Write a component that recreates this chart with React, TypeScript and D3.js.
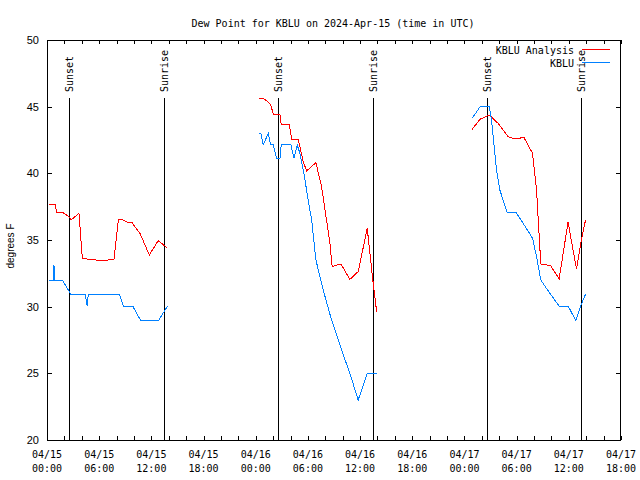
import React from "react";
import * as d3 from "d3";

// hours since 2024-04-15 00:00 UTC
const analysisHours1 = [0.26, 0.92, 1.11, 1.76, 2.53, 2.76, 3.68, 4.06, 4.86, 6.29, 7.0, 7.7, 8.2, 8.59, 9.23, 9.74, 10.69, 11.76, 12.79, 13.87];
const analysisValues1 = [37.67, 37.67, 37.08, 37.08, 36.75, 36.5, 37.0, 33.63, 33.55, 33.45, 33.5, 33.58, 36.5, 36.55, 36.33, 36.33, 35.5, 33.88, 34.95, 34.38];
const analysisHours2 = [24.4, 24.86, 25.25, 25.71, 26.01, 26.78, 26.93, 27.85, 28.16, 28.89, 29.46, 29.85, 30.92, 31.57, 32.14, 32.53, 32.79, 33.1, 33.79, 34.83, 35.78, 36.82, 37.44, 37.9];
const analysisValues2 = [45.63, 45.63, 45.45, 45.18, 44.45, 44.45, 43.63, 43.63, 42.55, 42.55, 40.88, 40.18, 40.8, 39.0, 36.5, 34.75, 33.0, 33.08, 33.2, 32.05, 32.63, 35.88, 32.13, 29.63];
const analysisHours3 = [48.89, 49.77, 50.84, 51.87, 53.02, 53.6, 54.29, 54.83, 55.83, 56.29, 56.55, 56.78, 57.44, 57.9, 58.89, 59.92, 60.31, 60.89, 61.34, 61.92];
const analysisValues3 = [43.3, 44.05, 44.38, 43.75, 42.75, 42.63, 42.63, 42.7, 41.5, 38.75, 35.75, 33.2, 33.13, 33.08, 32.08, 36.38, 34.88, 32.8, 34.63, 36.5];

const stationHours1 = [0.26, 0.72, 0.8, 0.89, 1.76, 2.72, 4.37, 4.63, 4.75, 8.31, 8.77, 9.85, 10.8, 12.79, 13.87];
const stationValues1 = [32.0, 32.0, 33.1, 32.0, 32.0, 30.95, 30.95, 30.05, 30.95, 30.95, 30.05, 30.05, 28.93, 28.93, 30.05];
const stationHours2 = [24.4, 24.6, 24.86, 25.44, 25.71, 26.01, 26.4, 26.78, 26.93, 28.05, 28.39, 28.77, 29.08, 29.54, 30.03, 30.43, 30.92, 31.76, 32.72, 33.87, 34.83, 35.78, 36.82, 37.9];
const stationValues2 = [43.0, 43.0, 42.13, 43.0, 42.13, 42.13, 41.13, 41.08, 42.13, 42.13, 41.13, 42.13, 41.5, 40.0, 38.0, 36.5, 33.5, 31.25, 29.0, 26.75, 25.0, 23.0, 25.0, 25.0];
const stationHours3 = [48.89, 49.85, 50.84, 51.11, 51.69, 52.07, 52.91, 53.91, 54.75, 55.83, 56.29, 56.78, 57.82, 58.89, 59.92, 60.8, 61.34, 61.92];
const stationValues3 = [44.13, 45.05, 45.05, 44.0, 40.25, 38.75, 37.08, 37.08, 36.25, 35.13, 33.75, 32.0, 31.0, 30.05, 30.05, 28.95, 30.0, 30.93];

const sunEventHours = [2.55, 13.45, 26.57, 37.43, 50.58, 61.4];
const sunEventLabels = ["Sunset", "Sunrise", "Sunset", "Sunrise", "Sunset", "Sunrise"];

const xTickDates = ["04/15", "04/15", "04/15", "04/15", "04/16", "04/16", "04/16", "04/16", "04/17", "04/17", "04/17", "04/17"];
const xTickTimes = ["00:00", "06:00", "12:00", "18:00", "00:00", "06:00", "12:00", "18:00", "00:00", "06:00", "12:00", "18:00"];
const yTicks = [20, 25, 30, 35, 40, 45, 50];

const W = 640, H = 480;
const L = 47, R = 621, T = 40, B = 440;
const mono = "'DejaVu Sans Mono', monospace";
const sans = "'Liberation Sans', Arial, sans-serif";
const RED = "#ff0000";
const BLUE = "#0080ff";

export default function App() {
  const x = d3.scaleLinear().domain([0, 66]).range([L, R]);
  const y = d3.scaleLinear().domain([20, 50]).range([B, T]);
  const line = d3.line<[number, number]>().x(d => x(d[0])).y(d => y(d[1]));
  const seg = (h: number[], v: number[]) => line(h.map((hh, i) => [hh, v[i]] as [number, number])) || "";

  const analysis = [
    seg(analysisHours1, analysisValues1),
    seg(analysisHours2, analysisValues2),
    seg(analysisHours3, analysisValues3),
  ];
  const station = [
    seg(stationHours1, stationValues1),
    seg(stationHours2, stationValues2),
    seg(stationHours3, stationValues3),
  ];
  const minor = d3.range(0, 67, 2);

  return (
    <svg width={W} height={H} style={{ position: "absolute", left: 0, top: 0, background: "#fff" }}>
      <rect x={0} y={0} width={W} height={H} fill="#fff" />
      <text x={333} y={27} fontFamily={mono} fontSize={10} textAnchor="middle">Dew Point for KBLU on 2024-Apr-15 (time in UTC)</text>

      {/* ticks */}
      <g stroke="#000" strokeWidth={1} shapeRendering="crispEdges">
        {minor.map(h => (
          <g key={"xt" + h}>
            <line x1={Math.round(x(h)) + 0.5} x2={Math.round(x(h)) + 0.5} y1={B} y2={B - 4} />
            <line x1={Math.round(x(h)) + 0.5} x2={Math.round(x(h)) + 0.5} y1={T} y2={T + 4} />
          </g>
        ))}
        {yTicks.map(v => (
          <g key={"yt" + v}>
            <line x1={L} x2={L + 5} y1={Math.round(y(v)) + 0.5} y2={Math.round(y(v)) + 0.5} />
            <line x1={R} x2={R - 5} y1={Math.round(y(v)) + 0.5} y2={Math.round(y(v)) + 0.5} />
          </g>
        ))}
      </g>

      {/* y labels */}
      {yTicks.map(v => (
        <text key={"yl" + v} x={39} y={y(v) + 4} fontFamily={sans} fontSize={11} textAnchor="end">{v}</text>
      ))}
      <text transform={`translate(14,246) rotate(-90)`} fontFamily={sans} fontSize={10} textAnchor="middle">degrees F</text>

      {/* x labels */}
      {xTickDates.map((d, i) => (
        <g key={"xl" + i}>
          <text x={x(i * 6)} y={458} fontFamily={mono} fontSize={10} textAnchor="middle">{d}</text>
          <text x={x(i * 6)} y={472} fontFamily={mono} fontSize={10} textAnchor="middle">{xTickTimes[i]}</text>
        </g>
      ))}

      {/* sunrise / sunset */}
      {sunEventHours.map((h, i) => {
        const px = Math.round(x(h)) + 0.5;
        return (
          <g key={"sun" + i}>
            <line x1={px} x2={px} y1={98} y2={B} stroke="#000" strokeWidth={1} shapeRendering="crispEdges" />
            <text transform={`translate(${px + 3.5},92) rotate(-90)`} fontFamily={mono} fontSize={10} textAnchor="start">{sunEventLabels[i]}</text>
          </g>
        );
      })}

      {/* data */}
      {analysis.map((d, i) => (
        <path key={"a" + i} d={d} fill="none" stroke={RED} strokeWidth={1} shapeRendering="crispEdges" />
      ))}
      {station.map((d, i) => (
        <path key={"s" + i} d={d} fill="none" stroke={BLUE} strokeWidth={1} shapeRendering="crispEdges" />
      ))}

      {/* legend */}
      <text x={574} y={54} fontFamily={mono} fontSize={10} textAnchor="end">KBLU Analysis</text>
      <line x1={582} x2={610} y1={49.5} y2={49.5} stroke={RED} strokeWidth={1} />
      <text x={574} y={67} fontFamily={mono} fontSize={10} textAnchor="end">KBLU</text>
      <line x1={582} x2={610} y1={62.5} y2={62.5} stroke={BLUE} strokeWidth={1} />

      {/* frame */}
      <rect x={L + 0.5} y={T + 0.5} width={R - L - 1} height={B - T} fill="none" stroke="#000" strokeWidth={1} shapeRendering="crispEdges" />
    </svg>
  );
}
